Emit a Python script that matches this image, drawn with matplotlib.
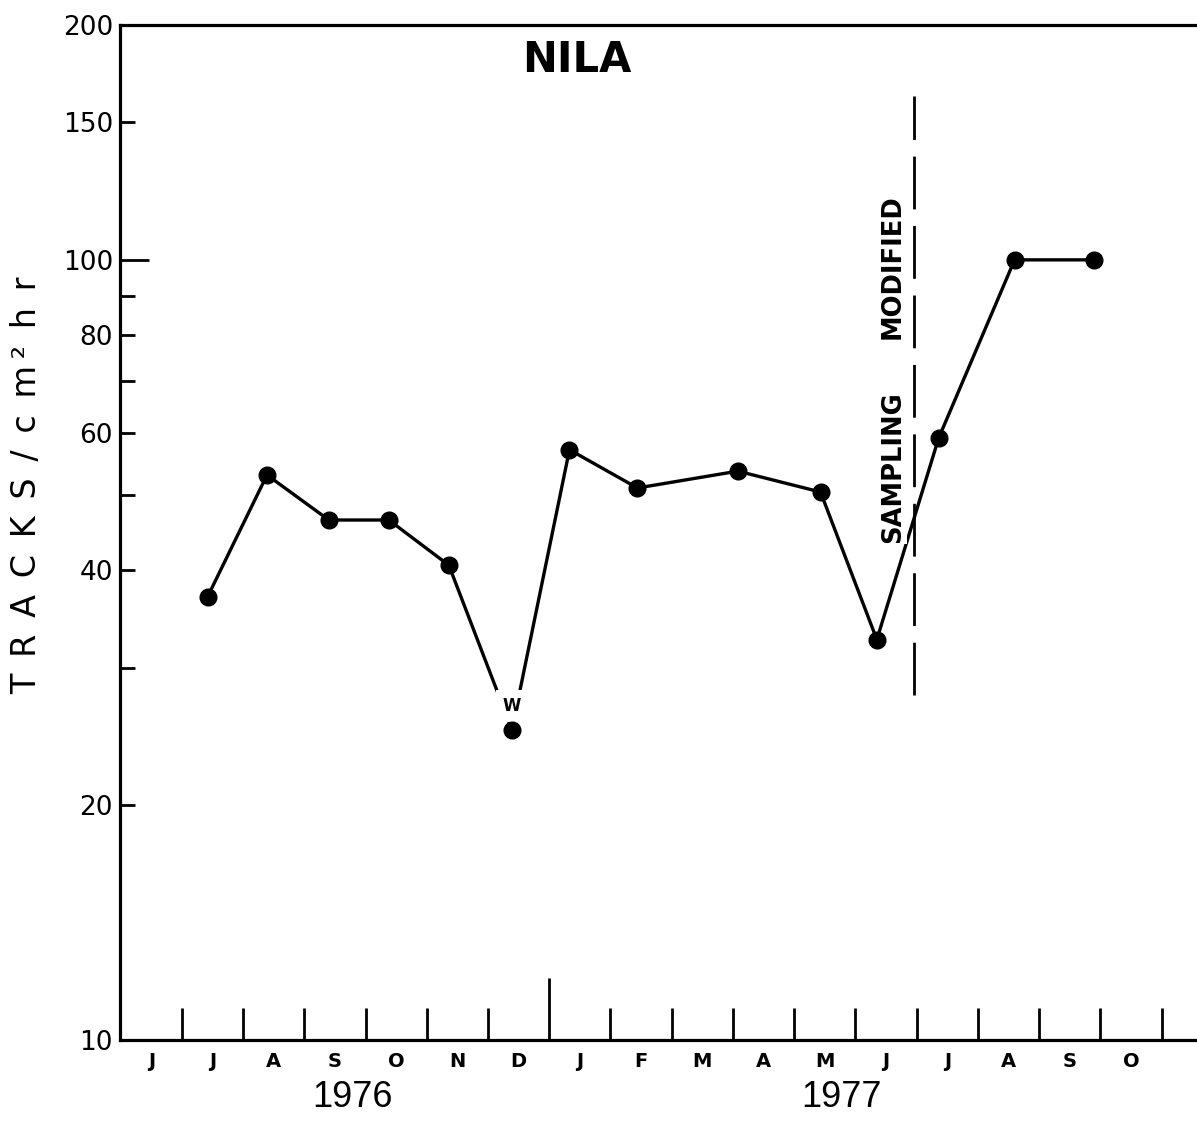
import numpy as np
import matplotlib.pyplot as plt
from matplotlib.ticker import FixedLocator, FixedFormatter, NullLocator
import matplotlib.transforms as mtransforms

# month labels along the bottom (Jun 1976 .. Oct 1977), one slot per month
months = ['J', 'J', 'A', 'S', 'O', 'N', 'D', 'J', 'F', 'M', 'A', 'M', 'J', 'J', 'A', 'S', 'O']
years = ['1976', '1977']
year_x = [3.28, 11.27]

# sampling dates (in month slots, 0 = June 1976) and track densities
sample_x = [0.92, 1.89, 2.90, 3.88, 4.86, 5.89, 6.83, 7.94, 9.58, 10.93, 11.85, 12.86, 14.10, 15.39]
tracks = [37.0, 53.0, 46.4, 46.4, 40.6, 25.0, 57.1, 51.0, 53.6, 50.4, 32.6, 59.1, 100.0, 100.0]
w_index = 5  # the December point marked "W"

# sampling-change marker
change_x = 12.45
change_span = (27.7, 162.0)

yticks = [10, 20, 30, 40, 50, 60, 70, 80, 90, 100, 150, 200]
ytick_labels = ['10', '20', '', '40', '', '60', '', '80', '', '100', '150', '200']

fig = plt.figure(figsize=(11.97, 11.22), dpi=100)
ax = fig.add_axes([0.1003, 0.0731, 0.8977, 0.9046])

ax.plot(sample_x, tracks, '-', color='black', lw=2.4, zorder=3)
ax.plot(sample_x, tracks, 'o', color='black', ms=12, zorder=5)
ax.annotate('W', (sample_x[w_index], tracks[w_index]), xytext=(0, 17),
            textcoords='offset points', ha='center', va='center',
            fontsize=12, fontweight='bold', zorder=4,
            bbox=dict(boxstyle='square,pad=0.4', fc='white', ec='none'))

ax.vlines(change_x, change_span[0], change_span[1], colors='black', lw=2,
          linestyles=(0, (19, 6)), zorder=2)
ax.text(change_x - 0.34, 54.3, 'SAMPLING', rotation=90, ha='center', va='center',
        fontsize=18.5, fontweight='bold', zorder=4,
        bbox=dict(boxstyle='square,pad=0.05', fc='white', ec='none'))
ax.text(change_x - 0.34, 98.0, 'MODIFIED', rotation=90, ha='center', va='center',
        fontsize=18.5, fontweight='bold', zorder=4)

# y axis (log)
ax.set_yscale('log')
ax.set_ylim(10, 200)
ax.yaxis.set_major_locator(FixedLocator(yticks))
ax.yaxis.set_major_formatter(FixedFormatter(ytick_labels))
ax.yaxis.set_minor_locator(NullLocator())
ax.tick_params(axis='y', direction='in', length=11, width=2, labelsize=19, pad=5)
ax.yaxis.get_major_ticks()[yticks.index(100)].tick1line.set_markersize(21)

# x axis: boundary ticks + month labels in between
ax.set_xlim(-0.51, 17.04)
ax.set_xticks(np.arange(len(months)) + 0.5)
ax.set_xticklabels([])
ax.set_xticks(np.arange(len(months)), labels=months, minor=True)
ax.tick_params(axis='x', which='major', direction='in', length=23, width=2)
ax.tick_params(axis='x', which='minor', length=0, labelsize=14, pad=9)
for lbl in ax.get_xticklabels(minor=True):
    lbl.set_fontweight('bold')
ax.xaxis.get_major_ticks()[6].tick1line.set_markersize(45)

trans = mtransforms.blended_transform_factory(ax.transData, ax.transAxes)
for yr, xx in zip(years, year_x):
    ax.text(xx, -0.057, yr, transform=trans, ha='center', va='center',
            fontsize=26, family='Liberation Sans')

ax.set_ylabel('T\u2002R\u2002A\u2002C\u2002K\u2002S\u2002/\u2002c\u2002m\u2009\u00b2\u2002h\u2002r',
              fontsize=24)
ax.yaxis.set_label_coords(-0.072, 0.547)

ax.text(0.425, 0.9655, 'NILA', transform=ax.transAxes, ha='center', va='center',
        fontsize=30, fontweight='bold')

ax.spines['right'].set_visible(False)
for s in ['left', 'bottom', 'top']:
    ax.spines[s].set_linewidth(2.3)

plt.savefig('out.png', dpi=100)
plt.close('all')
